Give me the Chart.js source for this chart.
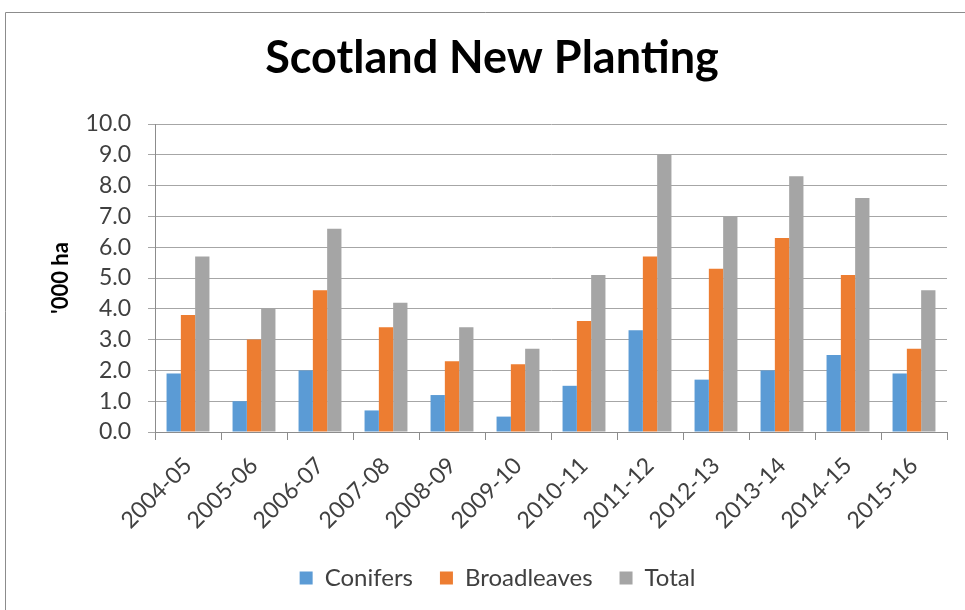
<!DOCTYPE html>
<html>
<head>
<meta charset="utf-8">
<script src="https://cdn.jsdelivr.net/npm/chart.js@4/dist/chart.umd.min.js"></script>
<style>
  html, body { margin: 0; background: #fff; }
  #wrap { width: 965px; height: 610px; position: relative; }
</style>
</head>
<body>
<div id="wrap"><canvas id="plantingChart"></canvas></div>
<script>
const seasons = ['2004-05', '2005-06', '2006-07', '2007-08', '2008-09', '2009-10',
                 '2010-11', '2011-12', '2012-13', '2013-14', '2014-15', '2015-16'];
const conifers    = [1.9, 1.0, 2.0, 0.7, 1.2, 0.5, 1.5, 3.3, 1.7, 2.0, 2.5, 1.9];
const broadleaves = [3.8, 3.0, 4.6, 3.4, 2.3, 2.2, 3.6, 5.7, 5.3, 6.3, 5.1, 2.7];
const total       = [5.7, 4.0, 6.6, 4.2, 3.4, 2.7, 5.1, 9.0, 7.0, 8.3, 7.6, 4.6];
const yMin = 0, yMax = 10, yStep = 1;
const chartTitle = 'Scotland New Planting';

const FONT = 'Lato, "Open Sans", sans-serif';

// frame + title, centred on the whole chart box like the original
const framePlugin = {
    id: 'frame',
    afterLayout(chart) {
        // legend in the original is centred on the full box, not the padded area
        chart.legend.left += 24;
        chart.legend.right += 24;
    },
    beforeDraw(chart) {
        const c = chart.ctx;
        c.save();
        c.strokeStyle = '#8c8c8c';
        c.lineWidth = 1;
        c.beginPath();
        c.moveTo(5.5, 610);
        c.lineTo(5.5, 12.5);
        c.lineTo(965, 12.5);
        c.stroke();
        c.fillStyle = '#000';
        c.font = 'bold 45px ' + FONT;
        c.textAlign = 'center';
        c.textBaseline = 'alphabetic';
        c.fillText(chartTitle, 492, 73);
        c.restore();
    }
};

const ctx = document.getElementById('plantingChart').getContext('2d');
new Chart(ctx, {
    type: 'bar',
    data: {
        labels: seasons,
        datasets: [
            { label: 'Conifers', data: conifers, backgroundColor: '#5B9BD5' },
            { label: 'Broadleaves', data: broadleaves, backgroundColor: '#ED7D31' },
            { label: 'Total', data: total, backgroundColor: '#A5A5A5' }
        ]
    },
    options: {
        responsive: true,
        maintainAspectRatio: false,
        animation: false,
        datasets: {
            bar: { categoryPercentage: 0.65, barPercentage: 1.0 }
        },
        layout: { padding: { top: 124, right: 18, bottom: 10, left: 0 } },
        plugins: {
            title: { display: false },
            legend: {
                position: 'bottom',
                labels: {
                    boxWidth: 13,
                    boxHeight: 13,
                    padding: 27,
                    color: '#404040',
                    font: { family: FONT, size: 24 }
                }
            },
            tooltip: { enabled: false }
        },
        scales: {
            x: {
                grid: {
                    offset: true,
                    drawOnChartArea: false,
                    tickLength: 8,
                    color: '#8c8c8c'
                },
                border: { color: '#8c8c8c' },
                ticks: {
                    minRotation: 45,
                    maxRotation: 45,
                    padding: 12,
                    color: '#404040',
                    font: { family: FONT, size: 23 }
                },
                afterFit(scale) { scale.height = 107; }
            },
            y: {
                min: yMin,
                max: yMax,
                ticks: {
                    stepSize: yStep,
                    autoSkip: false,
                    padding: 17,
                    color: '#404040',
                    font: { family: FONT, size: 23 },
                    callback: v => v.toFixed(1)
                },
                grid: { color: '#a6a6a6', tickLength: 7 },
                border: { color: '#8c8c8c' },
                title: {
                    display: true,
                    text: "'000 ha",
                    color: '#000',
                    font: { family: FONT, size: 22, weight: 'bold' },
                    padding: { top: 48, bottom: 0 }
                },
                afterFit(scale) { scale.width = 155; }
            }
        }
    },
    plugins: [framePlugin]
});
</script>
</body>
</html>
